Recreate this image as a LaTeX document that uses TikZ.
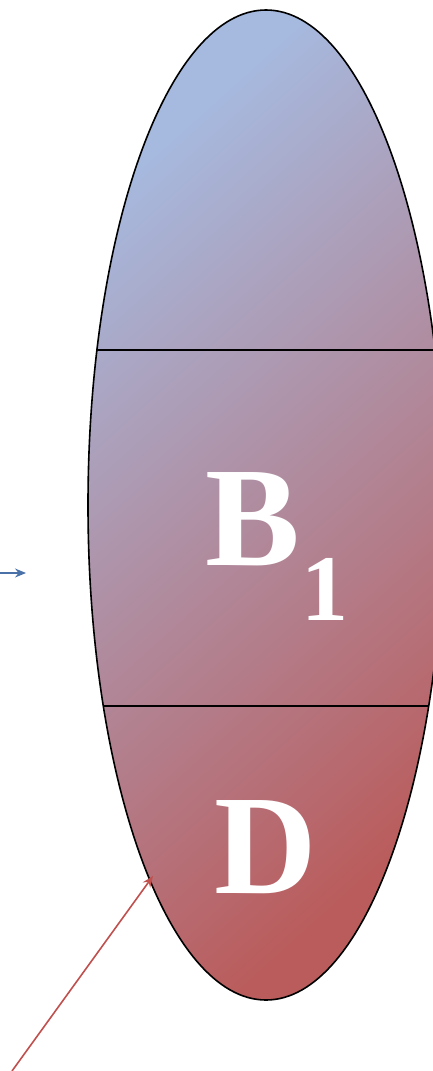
\documentclass[tikz,border=0pt]{standalone}
\usepackage{fontspec}
\setmainfont{Liberation Serif}
\usetikzlibrary{arrows.meta, shapes.geometric}
\definecolor{cellblue}{RGB}{166,186,224}
\definecolor{cellred}{RGB}{186,92,92}
\definecolor{linkblue}{RGB}{74,114,168}
\definecolor{linkred}{RGB}{192,80,77}
\tikzset{
    cell/.style={draw, ellipse, line width=1.6pt, minimum width=356pt, minimum height=990pt,
        inner sep=0pt, shading=axis, top color=cellblue, bottom color=cellred, shading angle=42},
    divider/.style={line width=1.6pt},
    label/.style={text=white, font=\bfseries\fontsize{142}{142}\selectfont, inner sep=0pt},
    link/.style={-{Stealth[length=11pt, width=9pt]}},
}
\begin{document}
\begin{tikzpicture}[x=1pt, y=-1pt]
    \useasboundingbox (0,0) rectangle (432,1071);
    \node[cell] (cell) at (266,505) {};

    % section borders
    \begin{scope}
        \clip (266,505) ellipse [x radius=178pt, y radius=495pt];
        \draw[divider] (0,350) -- (500,350);
        \draw[divider] (0,706) -- (500,706);
    \end{scope}

    \node[label, anchor=base west] (b1) at (205,565)
        {B\kern2pt\raisebox{-55pt}{\fontsize{94}{94}\selectfont 1}};
    \node[label, anchor=base] (d) at (266,893) {D};

    \coordinate (inblue) at (0,573);
    \coordinate (endblue) at (26,573);
    \coordinate (inred) at (12,1071);
    \coordinate (endred) at (153,876);

    \draw[link, linkblue, line width=1.3pt] (inblue) -- (endblue);
    \draw[link, linkred, line width=1.6pt] (inred) -- (endred);
\end{tikzpicture}
\end{document}
